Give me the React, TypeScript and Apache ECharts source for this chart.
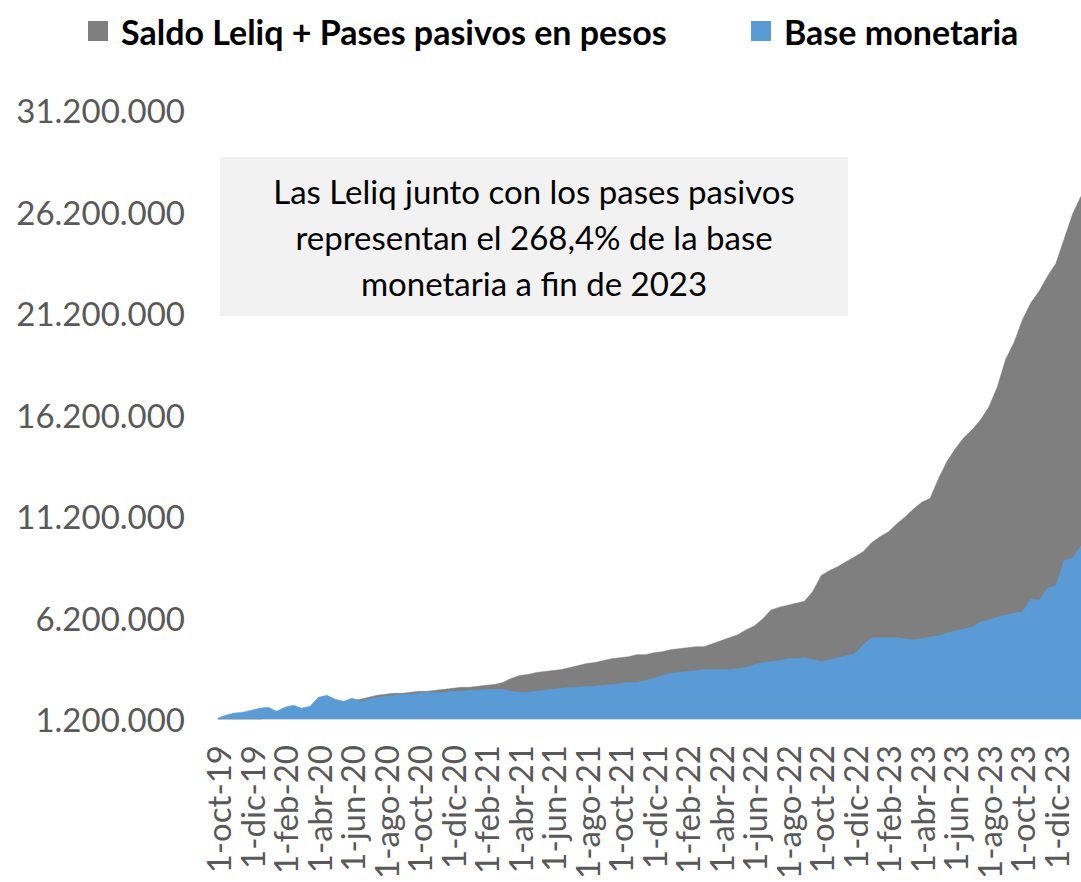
import React, { useEffect, useRef } from "react";
import * as echarts from "echarts";

const MONTH_ABBR = ["ene", "feb", "mar", "abr", "may", "jun", "jul", "ago", "sep", "oct", "nov", "dic"];
const START_YEAR = 2019;
const START_MONTH = 9; // octubre
const HALF_MONTHS = 104;

const categories: string[] = [];
for (let i = 0; i < HALF_MONTHS; i++) {
  const m = START_MONTH + Math.floor(i / 2);
  const y = START_YEAR + Math.floor(m / 12);
  const day = i % 2 === 0 ? 1 : 15;
  categories.push(`${day}-${MONTH_ABBR[m % 12]}-${String(y).slice(2)}`);
}

// Saldo Leliq + Pases pasivos en pesos
const leliqPases = [
  1150000, 1130000, 1110000, 1100000, 1110000, 1140000, 1444000, 1444000, 1541000, 1590000,
  1639000, 1737000, 1834000, 1883000, 1932000, 2029000, 2127000, 2176000, 2273000, 2371000,
  2420000, 2468000, 2468000, 2517000, 2566000, 2566000, 2615000, 2663000, 2712000, 2761000,
  2761000, 2810000, 2859000, 2907000, 3005000, 3200000, 3346000, 3395000, 3493000, 3541000,
  3590000, 3639000, 3737000, 3834000, 3932000, 3980000, 4078000, 4176000, 4224000, 4273000,
  4371000, 4371000, 4468000, 4517000, 4615000, 4663000, 4712000, 4761000, 4761000, 4907000,
  5054000, 5200000, 5346000, 5590000, 5785000, 6127000, 6566000, 6712000, 6810000, 6907000,
  7005000, 7493000, 8273000, 8517000, 8712000, 8956000, 9200000, 9444000, 9883000, 10176000,
  10419000, 10810000, 11151000, 11541000, 11883000, 12078000, 13054000, 13883000, 14517000, 15054000,
  15444000, 15932000, 16566000, 17541000, 18907000, 19736000, 20858000, 21688000, 22273000, 23005000,
  23639000, 24858000, 26078000, 26956000,
];

// Base monetaria
const baseMonetaria = [
  1249000, 1395000, 1493000, 1541000, 1639000, 1737000, 1785000, 1590000, 1785000, 1883000,
  1737000, 1834000, 2273000, 2371000, 2176000, 2078000, 2224000, 2078000, 2176000, 2273000,
  2322000, 2371000, 2420000, 2420000, 2468000, 2517000, 2517000, 2517000, 2566000, 2566000,
  2615000, 2615000, 2663000, 2663000, 2663000, 2566000, 2517000, 2517000, 2566000, 2615000,
  2663000, 2712000, 2761000, 2761000, 2810000, 2810000, 2859000, 2907000, 2956000, 3005000,
  3005000, 3102000, 3200000, 3346000, 3444000, 3493000, 3541000, 3590000, 3639000, 3639000,
  3639000, 3639000, 3688000, 3737000, 3883000, 3980000, 4029000, 4078000, 4176000, 4176000,
  4224000, 4127000, 4029000, 4127000, 4224000, 4322000, 4419000, 4859000, 5200000, 5200000,
  5200000, 5200000, 5151000, 5102000, 5151000, 5249000, 5298000, 5444000, 5541000, 5639000,
  5737000, 5980000, 6078000, 6224000, 6322000, 6419000, 6468000, 7102000, 7054000, 7639000,
  7785000, 9005000, 9151000, 9737000,
];

const Y_MIN = 1200000;
const Y_MAX = 31200000;
const Y_STEP = 5000000;

const SERIES_NAMES = ["Saldo Leliq + Pases pasivos en pesos", "Base monetaria"];
const ANNOTATION = "Las Leliq junto con los pases pasivos\nrepresentan el 268,4% de la base\nmonetaria a fin de 2023";

const FONT = "Lato, 'Open Sans', sans-serif";

function fmt(v: number): string {
  return Math.round(v).toString().replace(/\B(?=(\d{3})+(?!\d))/g, ".");
}

const legendText = {
  fontFamily: FONT,
  fontSize: 34,
  fontWeight: "bold",
  color: "#000000",
  padding: [0, 0, 0, 8],
  lineHeight: 30,
};

export default function App() {
  const ref = useRef<HTMLDivElement>(null);

  useEffect(() => {
    if (!ref.current) return;
    const chart = echarts.init(ref.current, undefined, { renderer: "svg" });
    chart.setOption({
      animation: false,
      backgroundColor: "#ffffff",
      textStyle: { fontFamily: FONT },
      legend: [
        {
          left: 83,
          top: 9,
          itemWidth: 20,
          itemHeight: 20,
          icon: "rect",
          data: [SERIES_NAMES[0]],
          textStyle: legendText,
        },
        {
          left: 746,
          top: 9,
          itemWidth: 20,
          itemHeight: 20,
          icon: "rect",
          data: [SERIES_NAMES[1]],
          textStyle: legendText,
        },
      ],
      grid: { left: 218, right: 0, top: 110, bottom: 157, containLabel: false },
      xAxis: {
        type: "category",
        data: categories,
        boundaryGap: false,
        axisLine: { show: true, lineStyle: { color: "#d3d9df", width: 2 } },
        axisTick: { show: false },
        axisLabel: {
          interval: 3,
          rotate: 90,
          margin: 26,
          fontSize: 33,
          fontFamily: FONT,
          color: "#595959",
        },
        splitLine: { show: false },
      },
      yAxis: {
        type: "value",
        min: Y_MIN,
        max: Y_MAX,
        interval: Y_STEP,
        axisLine: { show: false },
        axisTick: { show: false },
        splitLine: { show: false },
        axisLabel: {
          margin: 33,
          fontSize: 33,
          fontFamily: FONT,
          color: "#595959",
          formatter: (v: number) => fmt(v),
        },
      },
      series: [
        {
          name: SERIES_NAMES[0],
          type: "line",
          data: leliqPases,
          showSymbol: false,
          symbol: "none",
          color: "#7f7f7f",
          lineStyle: { width: 0.5, color: "#7f7f7f" },
          areaStyle: { color: "#7f7f7f", opacity: 1, origin: "start" },
          clip: true,
          z: 2,
        },
        {
          name: SERIES_NAMES[1],
          type: "line",
          data: baseMonetaria,
          showSymbol: false,
          symbol: "none",
          color: "#5b9bd5",
          lineStyle: { width: 0.5, color: "#5b9bd5" },
          areaStyle: { color: "#5b9bd5", opacity: 1, origin: "start" },
          clip: true,
          z: 3,
        },
      ],
      graphic: [
        {
          type: "rect",
          shape: { x: 220, y: 157, width: 628, height: 159 },
          style: { fill: "#f2f2f2" },
          z: 10,
        },
        {
          type: "text",
          x: 534,
          y: 237,
          z: 11,
          style: {
            text: ANNOTATION,
            fontFamily: FONT,
            fontSize: 33,
            lineHeight: 46,
            fill: "#000000",
            textAlign: "center",
            textVerticalAlign: "middle",
          },
        },
      ],
    });
    return () => chart.dispose();
  }, []);

  return (
    <div
      ref={ref}
      style={{ position: "absolute", left: 0, top: 0, width: 1081, height: 882 }}
    />
  );
}
